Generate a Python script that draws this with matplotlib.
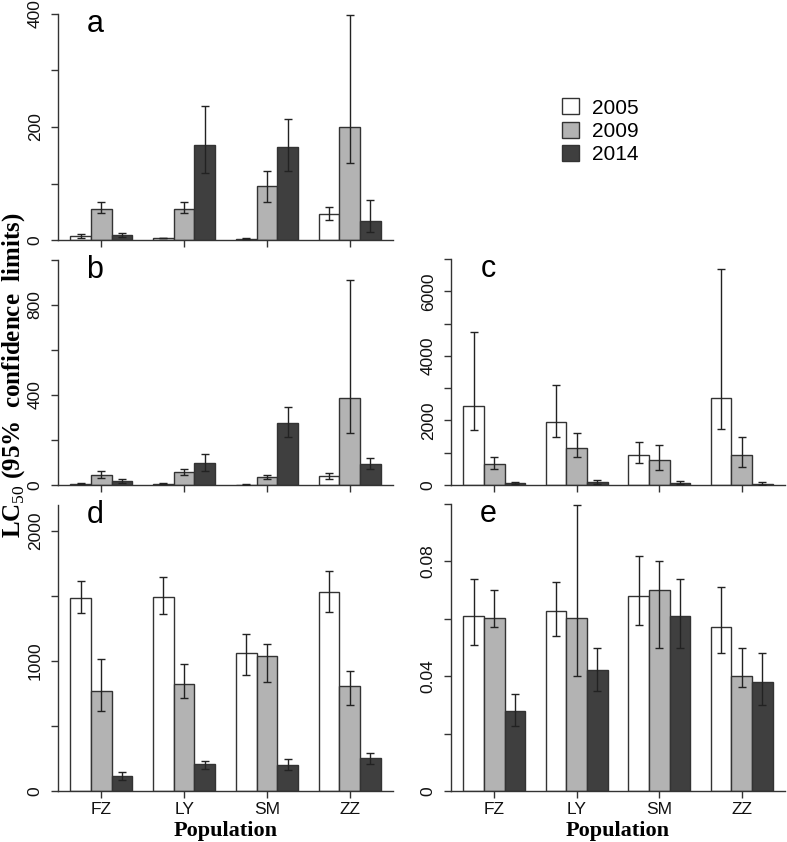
import matplotlib.pyplot as plt
import numpy as np
from matplotlib.patches import Patch

plt.rcParams['font.family'] = ['Liberation Sans', 'DejaVu Sans']
plt.rcParams['mathtext.fontset'] = 'custom'
plt.rcParams['mathtext.rm'] = 'Liberation Serif'

populations = ['FZ', 'LY', 'SM', 'ZZ']
years = ['2005', '2009', '2014']
colors = ['#ffffff', '#b3b3b3', '#3f3f3f']

# LC50 means and 95% confidence limits, one row per year (2005, 2009, 2014)
a_mean = [[6.5, 3.5, 2.4, 45.5], [55, 55, 95, 200], [9, 169, 164, 33]]
a_low = [[3, 3, 2, 35], [48, 48, 67, 136], [6, 119, 123, 14]]
a_high = [[10, 4, 3, 58], [68, 68, 122, 399], [12, 237, 215, 70]]

b_mean = [[6, 6, 2, 41], [46, 56, 37, 385], [18, 97, 275, 93]]
b_low = [[4, 4, 1, 27], [30, 44, 27, 232], [9, 63, 214, 72]]
b_high = [[8, 7, 3, 52], [61, 69, 46, 911], [25, 140, 348, 118]]

c_mean = [[2450, 1965, 920, 2690], [650, 1140, 775, 920], [60, 85, 60, 40]]
c_low = [[1710, 1500, 670, 1740], [500, 880, 465, 570], [40, 40, 30, 15]]
c_high = [[4740, 3110, 1320, 6700], [880, 1620, 1240, 1500], [80, 145, 115, 90]]

d_mean = [[1486, 1494, 1060, 1532], [773, 822, 1037, 807], [115, 205, 200, 256]]
d_low = [[1366, 1359, 891, 1378], [614, 717, 835, 658], [87, 172, 159, 210]]
d_high = [[1614, 1650, 1206, 1696], [1017, 976, 1127, 922], [149, 233, 248, 294]]

e_mean = [[0.0609, 0.0628, 0.0681, 0.0572], [0.0602, 0.0602, 0.0699, 0.0399],
          [0.0279, 0.0421, 0.0609, 0.0379]]
e_low = [[0.0510, 0.0540, 0.0579, 0.0480], [0.0572, 0.0399, 0.0500, 0.0361],
         [0.0228, 0.0349, 0.0500, 0.0301]]
e_high = [[0.0740, 0.0729, 0.0819, 0.0710], [0.0699, 0.0997, 0.0800, 0.0500],
          [0.0339, 0.0500, 0.0739, 0.0480]]

W, H = 787, 842
fig = plt.figure(figsize=(W / 100, H / 100), dpi=100)


def panel(box, mean, low, high, ylim, ticks, labels, letter, xlabels=False):
    """Draw one R-style grouped bar panel; box is (left, top, right, bottom) in px."""
    l, t, r, b = box
    ax = fig.add_axes([l / W, 1 - b / H, (r - l) / W, (b - t) / H])
    for j in range(3):
        x = np.arange(4) * 4 + 1.5 + j
        m = np.array(mean[j])
        err = [m - np.array(low[j]), np.array(high[j]) - m]
        ax.bar(x, m, width=1, color=colors[j], edgecolor='#333333', linewidth=1, zorder=2)
        ax.errorbar(x, m, yerr=err, fmt='none', ecolor='#222222', elinewidth=1,
                    capsize=3, capthick=1, zorder=3)
    ax.set_xlim(0.4, 16.6)
    ax.set_ylim(*ylim)
    ax.set_xticks(np.arange(4) * 4 + 2.5)
    ax.set_xticklabels(populations if xlabels else [''] * 4, fontsize=12.5)
    ax.set_yticks(ticks)
    ax.set_yticklabels(labels, rotation=90, va='center', fontsize=12.5)
    for side in ['top', 'right']:
        ax.spines[side].set_visible(False)
    for side in ['left', 'bottom']:
        ax.spines[side].set_color('#333333')
        ax.spines[side].set_linewidth(1)
    ax.tick_params(length=5, width=1, color='#333333', labelcolor='#111111')
    ax.tick_params(axis='y', pad=6)
    ax.tick_params(axis='x', pad=3)
    ax.annotate(letter, xy=(0, 1), xycoords='axes fraction', xytext=(37, -10),
                textcoords='offset pixels', ha='center', va='center', fontsize=22)
    if xlabels:
        ax.text(0.5, -40 / (b - t), 'Population', transform=ax.transAxes,
                ha='center', va='center', fontsize=16, fontweight='bold',
                family='Liberation Serif')
    return ax


panel((58, 14, 393, 240), a_mean, a_low, a_high, (0, 400),
      [0, 100, 200, 300, 400], ['0', '', '200', '', '400'], 'a')
panel((58, 260, 393, 485), b_mean, b_low, b_high, (0, 1000),
      [0, 200, 400, 600, 800, 1000], ['0', '', '400', '', '800', ''], 'b')
panel((451, 259, 785, 485), c_mean, c_low, c_high, (0, 7000),
      np.arange(0, 7001, 1000),
      ['0', '', '2000', '', '4000', '', '6000', ''], 'c')
panel((58, 505, 393, 791), d_mean, d_low, d_high, (0, 2200),
      [0, 500, 1000, 1500, 2000], ['0', '', '1000', '', '2000'], 'd', xlabels=True)
panel((451, 504, 785, 791), e_mean, e_low, e_high, (0, 0.1),
      [0, 0.02, 0.04, 0.06, 0.08, 0.1], ['0', '', '0.04', '', '0.08', ''], 'e',
      xlabels=True)

fig.text(14 / W, 1 - 375 / H, r'LC$_{50}$ (95%  confidence  limits)', rotation=90,
         ha='center', va='center', fontsize=18, fontweight='bold',
         family='Liberation Serif')

handles = [Patch(facecolor=c, edgecolor='#333333', linewidth=1) for c in colors]
fig.legend(handles, years, loc='upper left', bbox_to_anchor=(552 / W, 1 - 88 / H),
           frameon=False, fontsize=15, handlelength=0.8, handleheight=0.8,
           handletextpad=0.6, labelspacing=0.2, borderpad=0)

fig.savefig('out.png', dpi=100)
